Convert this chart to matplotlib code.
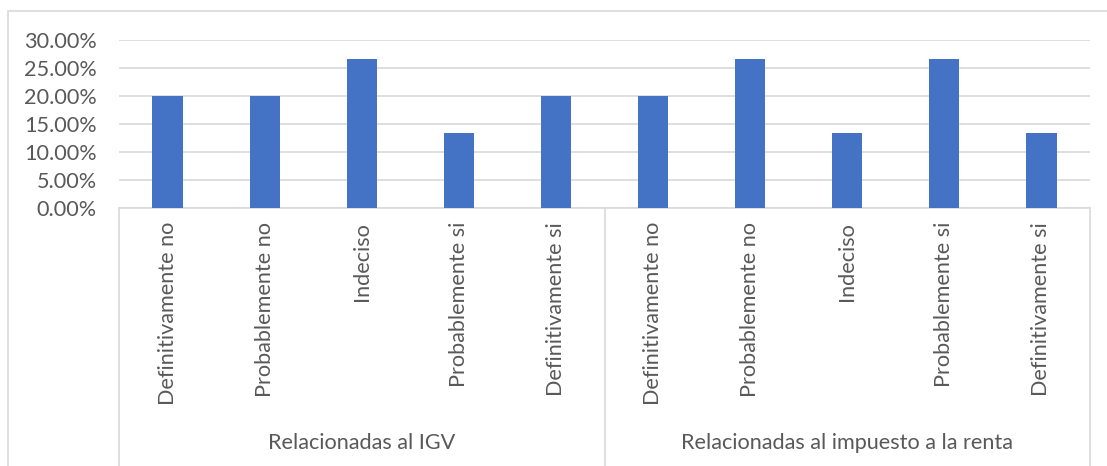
import matplotlib
matplotlib.use("Agg")
import matplotlib.pyplot as plt
from matplotlib.ticker import PercentFormatter
from matplotlib.patches import Rectangle

# ---------------------------------------------------------------------------
# Data
# ---------------------------------------------------------------------------
groups = ["Relacionadas al IGV", "Relacionadas al impuesto a la renta"]
answers_igv = ["Definitivamente no", "Probablemente no", "Indeciso",
               "Probablemente si", "Definitivamente si"]
answers_renta = ["Definitivamente no", "Probablemente no", "Indeciso",
                 "Probablemente si", "Definitivamente si"]
values_igv = [0.2000, 0.2000, 0.2667, 0.1333, 0.2000]
values_renta = [0.2000, 0.2667, 0.1333, 0.2667, 0.1333]
y_ticks = [0.00, 0.05, 0.10, 0.15, 0.20, 0.25, 0.30]

_BAR = "#4472C4"
_GRID = "#D9D9D9"
_TEXT = "#595959"
_FONT = "Lato"
_FS = 15.6

W, H = 1107, 466
fig = plt.figure(figsize=(W / 100, H / 100), dpi=100)

# plot area in pixel terms
left, top, right, bottom = 119, 40, 1090, 208
ax = fig.add_axes([left / W, 1 - bottom / H, (right - left) / W, (bottom - top) / H])

labels = answers_igv + answers_renta
values = values_igv + values_renta
x = list(range(len(labels)))
ax.bar(x, values, width=0.31, color=_BAR, zorder=3)

ax.set_xlim(-0.5, len(labels) - 0.5)
ax.set_ylim(0, 0.30)
ax.set_yticks(y_ticks)
ax.yaxis.set_major_formatter(PercentFormatter(1.0, decimals=2))
ax.grid(axis="y", color=_GRID, lw=1.2, zorder=0)
for s in ["top", "right", "left"]:
    ax.spines[s].set_visible(False)
ax.spines["bottom"].set_color(_GRID)
ax.spines["bottom"].set_linewidth(1.2)
ax.tick_params(axis="y", length=0, pad=16, labelsize=_FS, labelcolor=_TEXT)
ax.tick_params(axis="x", length=0, pad=10, labelsize=_FS, labelcolor=_TEXT)
ax.set_xticks(x)
ax.set_xticklabels(labels, rotation=90, va="top", ha="center")
for lab in ax.get_xticklabels() + ax.get_yticklabels():
    lab.set_fontfamily(_FONT)

# multi-level category separators
tr = ax.get_xaxis_transform()
n_per = len(answers_igv)
for sep in [-0.5, n_per - 0.5, len(labels) - 0.5]:
    ax.plot([sep, sep], [0, -2.0], transform=tr, color=_GRID, lw=1.2, clip_on=False)

# group labels
group_y = 1 - (443 - top) / (bottom - top)  # axes coordinate
for i, g in enumerate(groups):
    cx = i * n_per + (n_per - 1) / 2
    ax.text(cx, group_y, g, transform=tr, ha="center", va="center",
            fontsize=_FS, color=_TEXT, fontfamily=_FONT)

# outer chart border
fig.patches.append(Rectangle((8 / W, -0.05), 1.1, 1 - 11 / H + 0.05,
                             transform=fig.transFigure, fill=False,
                             edgecolor=_GRID, lw=1.2))

fig.savefig("out.png", dpi=100)
